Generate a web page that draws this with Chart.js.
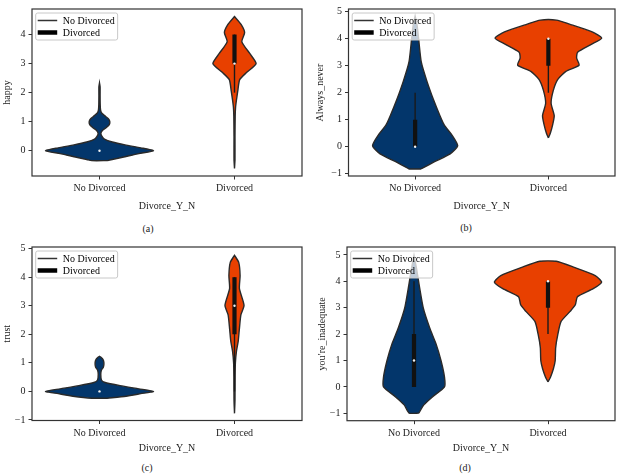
<!DOCTYPE html>
<html>
<head>
<meta charset="utf-8">
<script src="https://cdn.jsdelivr.net/npm/chart.js@4"></script>
<style>
body { margin: 0; background: #fff; }
#page { position: relative; width: 619px; height: 476px; overflow: hidden; background: #fff; }
canvas { position: absolute; }
.cap { position: absolute; font: 10px 'Liberation Serif', serif; color: #222; transform: translate(-50%, -50%); white-space: nowrap; }
</style>
</head>
<body>
<div id="page">
  <canvas id="chartA"></canvas>
  <canvas id="chartB"></canvas>
  <canvas id="chartC"></canvas>
  <canvas id="chartD"></canvas>
  <div class="cap" style="left:148px;top:228px">(a)</div>
  <div class="cap" style="left:466px;top:227px">(b)</div>
  <div class="cap" style="left:147px;top:467px">(c)</div>
  <div class="cap" style="left:465px;top:467px">(d)</div>
</div>
<script>
const categories = ['No Divorced', 'Divorced'];
const legendLabels = ['No Divorced', 'Divorced'];

// violin outlines: y levels and relative density at each level
// box = [whisker low, Q1, median, Q3, whisker high]

// (a) happy
const happyNoY = [-0.34, -0.3, -0.2, -0.1, 0, 0.1, 0.2, 0.3, 0.4, 0.5, 0.6, 0.7, 0.8, 0.9, 1.0, 1.1, 1.2, 1.3, 1.4, 1.6, 1.9, 2.2, 2.33];
const happyNoD = [8, 13, 27, 40, 55, 42, 26, 13, 5, 2.4, 1.4, 3, 7, 10, 10.5, 9, 5.5, 2.2, 1.1, 0.7, 0.6, 0.6, 0];
const happyYesY = [-0.61, -0.3, 0.5, 1.2, 1.5, 1.75, 2.05, 2.45, 2.7, 3.0, 3.35, 3.75, 4.07, 4.35, 4.62];
const happyYesD = [0, 0.5, 0.5, 0.7, 1.1, 2, 3.3, 5.3, 12.5, 22, 15.5, 7.5, 10.3, 6.7, 0];
const happyNoBox = [0, 0, 0, 0, 0];
const happyYesBox = [2, 3, 3, 4, 4];

// (b) Always_never
const alwaysNoY = [-0.82, -0.78, -0.55, -0.26, 0.04, 0.45, 0.8, 1.15, 1.73, 2.44, 3.14, 3.96, 4.5, 4.84];
const alwaysNoD = [6, 8, 20, 36, 43.7, 37.5, 30, 25.5, 19, 12, 6.3, 3.7, 2, 0];
const alwaysYesY = [0.33, 0.5, 0.8, 1.15, 1.61, 2.08, 2.49, 2.79, 3.02, 3.28, 3.5, 3.79, 4.02, 4.25, 4.54, 4.69];
const alwaysYesD = [0, 2, 4.3, 6, 2.8, 5, 9.5, 18, 31.5, 29, 30, 44, 54.7, 45, 21.7, 8.3];
const alwaysNoBox = [0, 0, 0, 1, 2];
const alwaysYesBox = [2, 3, 4, 4, 4];

// (c) trust
const trustNoY = [-0.24, -0.17, -0.08, 0, 0.09, 0.2, 0.32, 0.4, 0.6, 0.75, 0.85, 1.0, 1.12, 1.2, 1.23];
const trustNoD = [8, 27, 42, 55, 40, 21, 5, 2, 1.3, 2, 4, 4.5, 3.5, 1.5, 0];
const trustYesY = [-0.77, -0.3, 0.5, 1.0, 1.41, 1.76, 2.2, 2.68, 3.02, 3.6, 4.06, 4.52, 4.77];
const trustYesD = [0, 0.5, 0.6, 0.9, 2, 3.8, 5, 6.5, 9.7, 5, 5.7, 4.3, 0];
const trustNoBox = [0, 0, 0, 0, 0];
const trustYesBox = [0, 2, 3, 4, 4];

// (d) you're_inadequate
const inadNoY = [-0.99, -0.68, -0.37, 0, 0.37, 0.99, 1.62, 2.23, 2.98, 3.85, 4.5, 4.98];
const inadNoD = [5, 10, 19, 31, 31, 27.5, 22.5, 16, 9.5, 5.3, 2.5, 0];
const inadYesY = [0.19, 0.37, 0.69, 0.99, 1.49, 1.99, 2.48, 2.86, 3.11, 3.42, 3.72, 3.97, 4.22, 4.53, 4.76];
const inadYesD = [0, 2.5, 5.5, 7.3, 7.8, 10, 13.3, 22.5, 27.8, 30, 46, 54.5, 48, 26.7, 8.3];
const inadNoBox = [0, 0, 1, 2, 4];
const inadYesBox = [2, 3, 4, 4, 4];

const BLUE = '#03366b';
const ORANGE = '#e84000';
const EDGE = '#2a2a2a';
const FONT = { family: "'Liberation Serif', serif", size: 10 };
const TEXT = '#222';

const panels = [
  { id: 'chartA', ylabel: 'happy', left: 0, top: 0, width: 310, height: 215, area: [32, 0.5, 302, 176], yMin: -0.87, yMax: 4.88, titlePad: 1,
    violins: [[happyNoY, happyNoD, happyNoBox], [happyYesY, happyYesD, happyYesBox]] },
  { id: 'chartB', ylabel: 'Always_never', left: 310, top: 0, width: 309, height: 215, area: [348.5, 0.5, 618.5, 176], yMin: -1.08, yMax: 5.1, titlePad: 4,
    violins: [[alwaysNoY, alwaysNoD, alwaysNoBox], [alwaysYesY, alwaysYesD, alwaysYesBox]] },
  { id: 'chartC', ylabel: 'trust', left: 0, top: 238, width: 310, height: 219, area: [32, 244, 302, 420.5], yMin: -1.02, yMax: 5.06, titlePad: 1,
    violins: [[trustNoY, trustNoD, trustNoBox], [trustYesY, trustYesD, trustYesBox]] },
  { id: 'chartD', ylabel: 'you\u2032re_inadequate', left: 310, top: 238, width: 309, height: 219, area: [347, 244, 618.5, 420.7], yMin: -1.28, yMax: 5.3, titlePad: 6,
    violins: [[inadNoY, inadNoD, inadNoBox], [inadYesY, inadYesD, inadYesBox]] }
];

function violinShape(pos, ys, ds, k) {
  const right = ys.map((y, i) => ({ x: pos + ds[i] * k, y: y }));
  const left = ys.map((y, i) => ({ x: pos - ds[i] * k, y: y })).reverse();
  return right.concat(left, [right[0]]);
}

const framePlugin = {
  id: 'frameAndLegend',
  afterDraw(chart) {
    const ctx = chart.ctx;
    const a = chart.chartArea;
    ctx.save();
    ctx.strokeStyle = '#333';
    ctx.lineWidth = 1.2;
    ctx.strokeRect(a.left, a.top, a.right - a.left, a.bottom - a.top);

    // legend box, top left inside the axes
    ctx.font = "10px 'Liberation Serif', serif";
    const tw = Math.max(...legendLabels.map(t => ctx.measureText(t).width));
    const x = a.left + 3.7, y = a.top + 4;
    const w = 27 + tw + 3, h = 27;
    ctx.beginPath();
    ctx.roundRect(x, y, w, h, 2);
    ctx.fillStyle = 'rgba(255,255,255,0.75)';
    ctx.fill();
    ctx.strokeStyle = '#c8c8c8';
    ctx.lineWidth = 1;
    ctx.stroke();
    const widths = [1.5, 4.5];
    legendLabels.forEach((t, i) => {
      const ly = y + 7.5 + i * 12;
      ctx.beginPath();
      ctx.moveTo(x + 2, ly);
      ctx.lineTo(x + 21.5, ly);
      ctx.lineWidth = widths[i];
      ctx.strokeStyle = i === 0 ? '#333' : '#000';
      ctx.stroke();
      ctx.fillStyle = '#000';
      ctx.textBaseline = 'middle';
      ctx.fillText(t, x + 27, ly + 0.5);
    });
    ctx.restore();
  }
};

panels.forEach(p => {
  const canvas = document.getElementById(p.id);
  canvas.width = p.width;
  canvas.height = p.height;
  canvas.style.left = p.left + 'px';
  canvas.style.top = p.top + 'px';
  canvas.style.width = p.width + 'px';
  canvas.style.height = p.height + 'px';

  const yAxisWidth = p.area[0] - p.left;
  const padTop = p.area[1] - p.top;
  const padRight = p.left + p.width - p.area[2];
  const xAxisHeight = p.top + p.height - p.area[3];

  const maxD = Math.max(...p.violins.map(v => Math.max(...v[1])));
  const k = 0.4 / maxD;
  const colors = [BLUE, ORANGE];

  const datasets = [];
  p.violins.forEach((v, i) => {
    const [ys, ds, box] = v;
    datasets.push({
      data: violinShape(i, ys, ds, k),
      showLine: true, fill: 'shape', tension: 0.2,
      backgroundColor: colors[i], borderColor: EDGE, borderWidth: 1.4,
      pointRadius: 0, order: 3
    });
    datasets.push({
      data: [{ x: i, y: box[0] }, { x: i, y: box[4] }],
      showLine: true, borderColor: '#1a1a1a', borderWidth: 1.4, pointRadius: 0, order: 2
    });
    datasets.push({
      data: [{ x: i, y: box[1] }, { x: i, y: box[3] }],
      showLine: true, borderColor: '#111', borderWidth: 4.2, borderCapStyle: 'butt', pointRadius: 0, order: 1
    });
    datasets.push({
      data: [{ x: i, y: box[2] }],
      showLine: false, pointRadius: 1.2, pointBackgroundColor: '#f4f4f4', pointBorderWidth: 0, order: 0
    });
  });

  new Chart(canvas.getContext('2d'), {
    type: 'scatter',
    data: { datasets: datasets },
    options: {
      responsive: false,
      animation: false,
      events: [],
      layout: { padding: { left: 0, top: padTop, right: padRight, bottom: 0 } },
      plugins: { legend: { display: false }, tooltip: { enabled: false } },
      scales: {
        x: {
          type: 'linear', min: -0.5, max: 1.5,
          afterBuildTicks: s => { s.ticks = [{ value: 0 }, { value: 1 }]; },
          afterFit: s => { s.height = xAxisHeight; },
          ticks: { callback: v => categories[v], font: FONT, color: TEXT, padding: 3, maxRotation: 0, autoSkip: false },
          grid: { drawOnChartArea: false, tickLength: 3.5, tickColor: '#333' },
          border: { display: false },
          title: { display: true, text: 'Divorce_Y_N', font: FONT, color: TEXT, padding: { top: 0, bottom: 3 } }
        },
        y: {
          min: p.yMin, max: p.yMax,
          afterFit: s => { s.width = yAxisWidth; },
          ticks: {
            stepSize: 1, includeBounds: false, font: FONT, color: TEXT, padding: 3,
            callback: v => (v < 0 ? '\u2212' + Math.abs(v) : String(v))
          },
          grid: { drawOnChartArea: false, tickLength: 3.5, tickColor: '#333' },
          border: { display: false },
          title: { display: true, text: p.ylabel, font: FONT, color: TEXT, padding: { top: p.titlePad, bottom: 0 } }
        }
      }
    },
    plugins: [framePlugin]
  });
});
</script>
</body>
</html>
